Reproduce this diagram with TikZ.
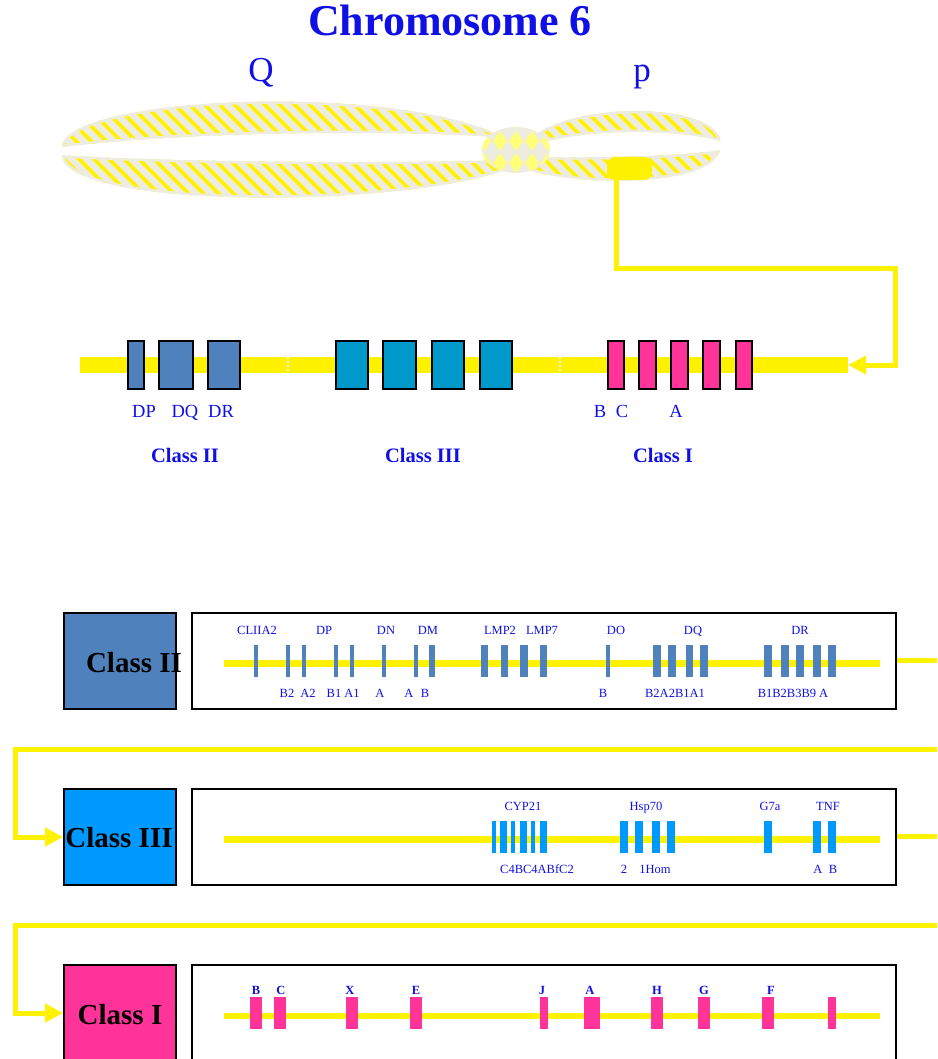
\documentclass[tikz,border=0pt]{standalone}
\usepackage{fontspec}
\setmainfont{Liberation Serif}
\usetikzlibrary{arrows.meta}

\definecolor{tblue}{RGB}{16,16,230}
\definecolor{beige}{RGB}{238,236,225}
\definecolor{paleyel}{RGB}{255,255,120}
\definecolor{steel}{RGB}{79,129,189}
\definecolor{tealb}{RGB}{0,153,204}
\definecolor{azure}{RGB}{0,153,255}
\definecolor{pinkc}{RGB}{255,51,153}

\tikzset{
  title/.style={text=tblue, font=\bfseries\fontsize{44}{46}\selectfont, anchor=base, inner sep=0},
  armlab/.style={text=tblue, font=\fontsize{35}{37}\selectfont, anchor=base, inner sep=0},
  lbl/.style={text=tblue, font=\fontsize{18.5}{20}\selectfont, anchor=base, inner sep=0},
  clab/.style={text=tblue, font=\bfseries\fontsize{20.5}{22}\selectfont, anchor=base, inner sep=0},
  glab/.style={text=tblue, font=\fontsize{12.5}{14}\selectfont, anchor=base, inner sep=0},
  glabb/.style={text=tblue, font=\bfseries\fontsize{12.5}{14}\selectfont, anchor=base, inner sep=0},
  sq/.style={draw=black, line width=2pt, minimum width=112pt, minimum height=96pt, inner sep=0},
  sqtext/.style={text=black, font=\bfseries\fontsize{29}{30}\selectfont, anchor=base, inner sep=0},
  rowbox/.style={draw=black, line width=2pt, fill=white, minimum width=704pt, minimum height=96pt, inner sep=0},
  gene/.style={draw=black, line width=2pt},
  track/.style={draw=yellow, line width=6.5pt},
  feed/.style={draw=yellow, line width=5pt},
  feedarrow/.style={feed, -{Triangle[length=18pt,width=18pt]}},
  stripe/.style={draw=yellow, line width=3.8pt},
}

% chromosome arm outlines
\def\armLU{(62,147) .. controls (66,95) and (400,82) .. (505,138) .. controls (420,130) and (200,130) .. (62,147) -- cycle}
\def\armLL{(62,155) .. controls (150,162) and (400,164) .. (505,160) -- (505,170) .. controls (400,208) and (66,210) .. (62,155) -- cycle}
\def\armRU{(528,142) .. controls (560,103) and (705,100) .. (720,138) -- (720,141) .. controls (680,129) and (580,127) .. (528,147) -- cycle}
\def\armRL{(528,157) .. controls (590,158) and (680,157) .. (720,150) .. controls (712,185) and (590,188) .. (528,170) -- cycle}

\begin{document}
\begin{tikzpicture}[x=1pt,y=-1pt]
\useasboundingbox (0,0) rectangle (937,1059);

% ---------- title ----------
\node[title] (ttl) at (450,36) {Chromosome 6};
\node[armlab] (qarm) at (261,82) {Q};
\node[armlab] (parm) at (642,82) {p};

% ---------- chromosome arms: beige with diagonal yellow stripes ----------
\foreach \arm in {\armLU,\armLL,\armRU,\armRL}{
  \begin{scope}
    \clip \arm;
    \fill[beige] (40,80) rectangle (740,220);
    \foreach \i in {-12,...,50}
      \draw[stripe] (\i*15,80) -- ++(140,140);
    % plain rim along the outline
    \draw[beige, line width=4.5pt] \arm;
  \end{scope}
}

% centromere with harlequin diamonds
\begin{scope}
  \clip (516,150) ellipse [x radius=34pt, y radius=23pt];
  \fill[beige] (480,120) rectangle (552,180);
  \foreach \cx in {468,484,...,564}
    \foreach \cy in {119,141,163,185}
      \fill[paleyel] (\cx-7,\cy) -- (\cx,\cy-10) -- (\cx+7,\cy) -- (\cx,\cy+10) -- cycle;
\end{scope}

% marked locus on the short arm
\node[fill=yellow, minimum width=45pt, minimum height=23pt, rounded corners=8pt, inner sep=0] (blob) at (629.5,168.5) {};

% ---------- overview gene map ----------
\node[fill=yellow, minimum width=768pt, minimum height=16pt, inner sep=0] (band) at (464,365) {};
\draw[white, line width=1.5pt, dash pattern=on 2pt off 2pt] (288,357) -- (288,373);
\draw[white, line width=1.5pt, dash pattern=on 2pt off 2pt] (560,357) -- (560,373);

\draw[feedarrow] ([xshift=10pt]blob.south west) |- (895,268) |- (band.east);

% class II loci
\foreach \a/\b in {128/144,159/193,208/240}
  \filldraw[gene, fill=steel] (\a,341) rectangle (\b,389);
% class III loci
\foreach \a/\b in {336/368,383/416,432/464,480/512}
  \filldraw[gene, fill=tealb] (\a,341) rectangle (\b,389);
% class I loci
\foreach \a/\b in {608/624,639/656,671/688,703/720,736/752}
  \filldraw[gene, fill=pinkc] (\a,341) rectangle (\b,389);

\node[lbl] (lDP) at (144,417) {DP};
\node[lbl] (lDQ) at (185,417) {DQ};
\node[lbl] (lDR) at (221,417) {DR};
\node[lbl] (lB) at (600,417) {B};
\node[lbl] (lC) at (622,417) {C};
\node[lbl] (lA) at (676,417) {A};

\node[clab] (cII) at (185,462) {Class II};
\node[clab] (cIII) at (423,462) {Class III};
\node[clab] (cI) at (663,462) {Class I};

% ---------- detailed rows ----------
% Class II
\node[sq, fill=steel] (sqII) at (120,661) {};
\node[sqtext] (tII) at (134,672) {Class II};
\node[rowbox] (rowII) at (544,661) {};
\draw[track] (224,663.5) -- (880,663.5);
\foreach \a/\b in {254/258,286/290,302/306,334/338,350/354,382/386,414/418,429/435,
                   481/488,501/508,520/528,540/547,606/610,653/661,668/676,686/693,
                   700/708,764/772,781/789,796/804,813/821,828/836}
  \fill[steel] (\a,645) rectangle (\b,677);
\foreach \x/\t in {257/CLIIA2,324/DP,386/DN,428/DM,500/LMP2,542/LMP7,616/DO,693/DQ,800/DR}
  \node[glab] at (\x,634) {\t};
\foreach \x/\t in {287/B2,308/A2,334/B1,352/A1,380/A,409/A,425/B,603/B,675/B2A2B1A1,793/B1B2B3B9 A}
  \node[glab] at (\x,697) {\t};
\coordinate (outII) at (937,660);
\draw[feed] (rowII.east |- outII) -- (outII);

% Class III
\coordinate (inIII) at (937,749);
\node[sq, fill=azure] (sqIII) at (120,837) {};
\draw[feedarrow] (inIII) -- (15.5,749) |- (sqIII.west);
\node[sqtext] (tIII) at (119,847) {Class III};
\node[rowbox] (rowIII) at (544,837) {};
\draw[track] (224,839.5) -- (880,839.5);
\foreach \a/\b in {492/496,500/507,511/515,520/527,531/535,540/547,620/628,635/643,
                   652/660,667/675,764/772,813/821,828/836}
  \fill[azure] (\a,821) rectangle (\b,853);
\foreach \x/\t in {523/CYP21,646/Hsp70,770/G7a,828/TNF}
  \node[glab] at (\x,810) {\t};
\foreach \x/\t in {537/C4BC4ABfC2,624/2,655/1Hom,818/A,833/B}
  \node[glab] at (\x,873) {\t};
\coordinate (outIII) at (937,836.5);
\draw[feed] (rowIII.east |- outIII) -- (outIII);

% Class I
\coordinate (inI) at (937,925);
\node[sq, fill=pinkc] (sqI) at (120,1013) {};
\draw[feedarrow] (inI) -- (15.5,925) |- (sqI.west);
\node[sqtext] (tI) at (120,1024) {Class I};
\node[rowbox] (rowI) at (544,1013) {};
\draw[track] (224,1016) -- (880,1016);
\foreach \a/\b in {250/262,274/286,346/358,410/422,540/548,584/600,651/663,698/710,762/774,828/836}
  \fill[pinkc] (\a,997) rectangle (\b,1029);
\foreach \x/\t in {256/B,281/C,350/X,416/E,542/J,590/A,657/H,704/G,771/F}
  \node[glabb] at (\x,994) {\t};

\end{tikzpicture}
\end{document}
